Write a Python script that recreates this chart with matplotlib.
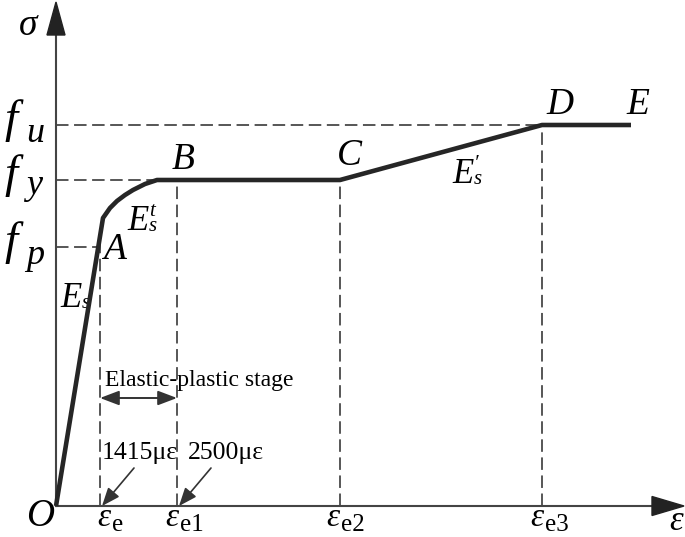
import numpy as np
import matplotlib
matplotlib.use("Agg")
import matplotlib.pyplot as plt

plt.rcParams['lines.scale_dashes'] = False

# schematic stress-strain curve (schematic units, origin at O)
strain = [0, 47, 54, 61, 69, 77, 89, 101, 284, 486, 575]
stress = [0, 288, 298, 305, 311, 316, 322, 326, 326, 381, 381]

# characteristic strains on the x axis
eps_labels = ['e', 'e1', 'e2', 'e3']
eps_vals = [44, 121, 284, 486]
eps_left = [41, 109, 270, 474]

# characteristic stresses on the y axis
f_labels = ['u', 'y', 'p']
f_vals = [381, 326, 259]

# point labels
pt_names = ['A', 'B', 'C', 'D', 'E']
pt_x = [58, 127, 293, 504, 582]
pt_y = [256, 346, 350, 401, 401]

strain_notes = ['1415\u03bc\u03b5', '2500\u03bc\u03b5']
note_x = [46, 132]

DASH = (0, (9, 4))
GREY = '#3a3a3a'
SERIF = 'Liberation Serif'

fig = plt.figure(figsize=(6.85, 5.37), dpi=100)
ax = fig.add_axes([0, 0, 1, 1])
ax.set_xlim(-56, 629)
ax.set_ylim(-31, 506)
ax.axis('off')


def it(x, y, s, size, **kw):
    return ax.text(x, y, s, fontsize=size, family=SERIF, style='italic', **kw)


# axes with arrow heads
ax.plot([0, 596], [0, 0], color='#444444', lw=1.5, zorder=2)
ax.plot([0, 0], [0, 472], color='#444444', lw=1.5, zorder=2)
ax.fill([596, 596, 628], [-9.5, 9.5, 0], color='#222222', zorder=3)
ax.fill([-9, 9, 0], [471, 471, 504], color='#222222', zorder=3)

# dashed guide lines
curve_x = np.array(strain, dtype=float)
curve_y = np.array(stress, dtype=float)
x_fp = np.interp(f_vals[2], curve_y[:2], curve_x[:2])
ax.plot([0, x_fp], [f_vals[2], f_vals[2]], color=GREY, lw=1.2, ls=DASH, zorder=1)
ax.plot([0, eps_vals[1]], [f_vals[1], f_vals[1]], color=GREY, lw=1.2, ls=DASH, zorder=1)
ax.plot([0, eps_vals[3]], [f_vals[0], f_vals[0]], color=GREY, lw=1.2, ls=DASH, zorder=1)
for xv in eps_vals:
    top = np.interp(xv, curve_x, curve_y)
    ax.plot([xv, xv], [0, top], color=GREY, lw=1.2, ls=DASH, zorder=1)

# the curve
ax.plot(strain, stress, color='#262626', lw=3.3, solid_joinstyle='round',
        solid_capstyle='butt', zorder=4)

# y axis labels f_u, f_y, f_p
sub_drop = [10, 7, 10]
for lab, val, drop in zip(f_labels, f_vals, sub_drop):
    base = val - 7
    it(-52, base, 'f', 34, ha='left', va='baseline')
    it(-30, base - drop, lab, 26, ha='left', va='baseline')

it(-28, 480, '\u03c3', 27, ha='center', va='center')
it(620, -16, '\u03b5', 25, ha='center', va='center')
it(-16, -11, 'O', 28, ha='center', va='center')

# x axis labels: italic epsilon with upright subscript
for lab, xl in zip(eps_labels, eps_left):
    it(xl, -20, '\u03b5', 24, ha='left', va='baseline')
    ax.text(xl + 15, -25, lab, fontsize=18, family=SERIF,
            ha='left', va='baseline')

# point labels
for name, px, py in zip(pt_names, pt_x, pt_y):
    it(px, py, name, 27, ha='center', va='center')

# moduli: E with subscript s and optional superscript
mod_x = [4, 71, 396]
mod_base = [199, 276, 323]
mod_sup = ['', 't', '\u2032']
for mx, mb, sup in zip(mod_x, mod_base, mod_sup):
    it(mx, mb, 'E', 25, ha='left', va='baseline')
    idx = sup + '\n' + 's' if sup else 's'
    it(mx + 22, mb - 1, idx, 15, ha='left', va='baseline', linespacing=0.75)

# elastic-plastic stage
ax.text(49, 120, 'Elastic-plastic stage', fontsize=17, family=SERIF,
        ha='left', va='baseline')
ax.annotate('', xy=(eps_vals[1], 108), xytext=(eps_vals[0], 108),
            arrowprops=dict(arrowstyle='<|-|>,head_length=0.58,head_width=0.22',
                            mutation_scale=20, color='#333333', lw=1.4,
                            shrinkA=0, shrinkB=0))

for note, nx, xv in zip(strain_notes, note_x, eps_vals[:2]):
    ax.text(nx, 47, note, fontsize=18.5, family=SERIF, ha='left', va='baseline')
    ax.annotate('', xy=(xv + 2, 0), xytext=(xv + 34, 38),
                arrowprops=dict(arrowstyle='-|>,head_length=0.55,head_width=0.22',
                                mutation_scale=20, color='#333333', lw=1.2,
                                shrinkA=0, shrinkB=0))

fig.savefig('out.png', dpi=100)
